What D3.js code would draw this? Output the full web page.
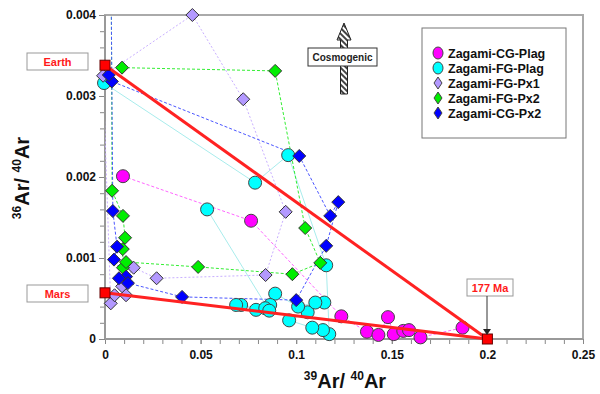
<!DOCTYPE html>
<html>
<head>
<meta charset="utf-8">
<script src="https://cdn.jsdelivr.net/npm/d3@7"></script>
<style>
  body { margin: 0; background: #fff; }
  svg { display: block; font-family: "Liberation Sans", Arial, sans-serif; }
</style>
</head>
<body>
<svg id="chart" width="600" height="394"></svg>
<script>
// values, [39Ar/40Ar, 36Ar/40Ar], in step order
var cgPlag = [[0.0094, 0.00201], [0.0764, 0.00146], [0.1236, 0.00028], [0.137, 0.00009],
              [0.143, 0.00005], [0.148, 0.00027], [0.151, 0.00006], [0.156, 0.0001],
              [0.159, 0.00011], [0.165, 0.00002], [0.187, 0.00014]];
var fgPlag = [[-0.0005, 0.00316], [0.0785, 0.00193], [0.0958, 0.00227], [0.1157, 0.00091],
              [0.1173, 0.00006], [0.114, 0.00011], [0.1084, 0.00014], [0.0963, 0.00023],
              [0.106, 0.00033], [0.1147, 0.00045], [0.11, 0.00045], [0.101, 0.0004],
              [0.089, 0.00056], [0.0864, 0.00042], [0.079, 0.00036], [0.0712, 0.00042],
              [0.0686, 0.00042], [0.0838, 0.00038], [0.0859, 0.00035], [0.0534, 0.0016]];
var fgPx1 = [[0.003, 0.00044], [-0.001, 0.00325], [0.0457, 0.004], [0.0723, 0.00296],
             [0.0945, 0.00157], [0.084, 0.00079], [0.027, 0.00075], [0.015, 0.00088],
             [0.009, 0.00065], [0.011, 0.00054], [0.005, 0.00054]];
var fgPx2 = [[0.003, 0.0062], [0.0037, 0.00183], [0.0094, 0.00152], [0.0105, 0.00125],
             [0.0093, 0.00111], [0.0094, 0.00088], [0.011, 0.00095], [0.0487, 0.00089],
             [0.098, 0.0008], [0.1126, 0.00094], [0.1047, 0.00137], [0.089, 0.00331],
             [0.0089, 0.00335]];
var cgPx2 = [[0.0026, 0.0062], [0.0041, 0.00158], [0.0063, 0.00114], [0.0047, 0.00098],
             [0.011, 0.00077], [0.0073, 0.00075], [0.012, 0.00069], [0.0403, 0.00052],
             [0.1, 0.00048], [0.1157, 0.00115], [0.122, 0.00169], [0.1178, 0.00152],
             [0.1016, 0.00226], [0.0036, 0.00318], [0.002, 0.00326]];

var seriesNames = ["Zagami-CG-Plag", "Zagami-FG-Plag", "Zagami-FG-Px1", "Zagami-FG-Px2", "Zagami-CG-Px2"];
var endMembers = [[0, 0.00338], [0, 0.00057], [0.2, 0]];   // Earth, Mars, 177 Ma
var endLabels = ["Earth", "Mars", "177 Ma"];
var xTickValues = [0, 0.05, 0.1, 0.15, 0.2, 0.25];
var xTickLabels = ["0", "0.05", "0.1", "0.15", "0.2", "0.25"];
var yTickValues = [0, 0.001, 0.002, 0.003, 0.004];
var yTickLabels = ["0", "0.001", "0.002", "0.003", "0.004"];

var series = [
  {name: seriesNames[0], data: cgPlag, shape: "circle", fill: "#ff00ff", line: "#ff66ff", dash: "3,2"},
  {name: seriesNames[1], data: fgPlag, shape: "circle", fill: "#00ffff", line: "#a8ecec", dash: null},
  {name: seriesNames[2], data: fgPx1, shape: "diamond", fill: "#b399ff", line: "#c9b0ff", dash: "2,2"},
  {name: seriesNames[3], data: fgPx2, shape: "diamond", fill: "#00ee00", line: "#33ee33", dash: "3,2"},
  {name: seriesNames[4], data: cgPx2, shape: "diamond", fill: "#0000ff", line: "#4a55ff", dash: "3,2"}
];

var svg = d3.select("#chart");
var x = d3.scaleLinear().domain([0, 0.25]).range([105, 583]);
var y = d3.scaleLinear().domain([0, 0.004]).range([339, 15]);

var defs = svg.append("defs");
defs.append("clipPath").attr("id", "plotclip")
    .append("rect").attr("x", 105).attr("y", 15).attr("width", 478).attr("height", 324);
var hatch = defs.append("pattern").attr("id", "hatch")
    .attr("patternUnits", "userSpaceOnUse").attr("width", 4).attr("height", 4)
    .attr("patternTransform", "rotate(-45)");
hatch.append("rect").attr("width", 4).attr("height", 4).attr("fill", "#fff");
hatch.append("rect").attr("width", 2).attr("height", 4).attr("fill", "#444");

// plot frame
svg.append("rect")
    .attr("x", 105).attr("y", 15).attr("width", 478).attr("height", 324)
    .attr("fill", "none").attr("stroke", "#aaa").attr("stroke-width", 2);

// axes
var yMinor = d3.range(0, 0.00401, 0.0002);
var xMinor = d3.range(0, 0.2501, 0.01);
function styleAxis(g) {
  g.select(".domain").remove();
  g.selectAll(".tick line").attr("stroke", "#888");
  g.selectAll(".tick text").attr("font-size", 12).attr("font-weight", "bold")
      .attr("fill", "#111").attr("font-family", "Liberation Sans, Arial, sans-serif");
}
svg.append("g").attr("transform", "translate(105,0)")
    .call(d3.axisLeft(y).tickValues(yMinor).tickSize(5).tickFormat(""))
    .call(styleAxis);
svg.append("g").attr("transform", "translate(105,0)")
    .call(d3.axisLeft(y).tickValues(yTickValues).tickSize(6).tickPadding(3)
          .tickFormat(function(d, i) { return yTickLabels[i]; }))
    .call(styleAxis);
svg.append("g").attr("transform", "translate(0,339)")
    .call(d3.axisBottom(x).tickValues(xMinor).tickSize(5).tickFormat(""))
    .call(styleAxis);
svg.append("g").attr("transform", "translate(0,339)")
    .call(d3.axisBottom(x).tickValues(xTickValues).tickSize(5).tickPadding(6)
          .tickFormat(function(d, i) { return xTickLabels[i]; }))
    .call(styleAxis);

svg.append("line").attr("x1", 105).attr("x2", 105).attr("y1", 15).attr("y2", 339)
    .attr("stroke", "#999").attr("stroke-width", 2);
svg.append("line").attr("x1", 105).attr("x2", 583).attr("y1", 339).attr("y2", 339)
    .attr("stroke", "#999").attr("stroke-width", 2);

// axis titles
var xt = svg.append("text").attr("x", 345).attr("y", 388).attr("text-anchor", "middle")
    .attr("font-weight", "bold").attr("fill", "#111");
xt.append("tspan").attr("font-size", 12).attr("dy", -8).text("39");
xt.append("tspan").attr("font-size", 20).attr("dy", 8).text("Ar/ ");
xt.append("tspan").attr("font-size", 12).attr("dy", -8).text("40");
xt.append("tspan").attr("font-size", 20).attr("dy", 8).text("Ar");

var yt = svg.append("text").attr("transform", "translate(29,178) rotate(-90)")
    .attr("text-anchor", "middle").attr("font-weight", "bold").attr("fill", "#111");
yt.append("tspan").attr("font-size", 12).attr("dy", -8).text("36");
yt.append("tspan").attr("font-size", 20).attr("dy", 8).text("Ar/ ");
yt.append("tspan").attr("font-size", 12).attr("dy", -8).text("40");
yt.append("tspan").attr("font-size", 20).attr("dy", 8).text("Ar");

// cosmogenic arrow
svg.append("path")
    .attr("d", "M340.5,94 L340.5,40 L337,40 L344,23 L351,40 L347.5,40 L347.5,94 Z")
    .attr("fill", "url(#hatch)").attr("stroke", "#222").attr("stroke-width", 1);
svg.append("rect").attr("x", 308).attr("y", 48).attr("width", 69).attr("height", 18)
    .attr("fill", "#fff").attr("stroke", "#333");
svg.append("text").attr("x", 342.5).attr("y", 61).attr("text-anchor", "middle")
    .attr("font-size", 10).attr("font-weight", "bold").attr("fill", "#222").text("Cosmogenic");

// series lines
var plot = svg.append("g").attr("clip-path", "url(#plotclip)");
var line = d3.line().x(function(d) { return x(d[0]); }).y(function(d) { return y(d[1]); });
[1, 0, 2, 3, 4].forEach(function(i) {
  var s = series[i];
  plot.append("path").datum(s.data).attr("d", line)
      .attr("fill", "none").attr("stroke", s.line).attr("stroke-width", 1)
      .attr("stroke-dasharray", s.dash);
});

function marker(g, s, cx, cy) {
  if (s.shape == "circle") {
    g.append("circle").attr("cx", cx).attr("cy", cy).attr("r", 6.5)
        .attr("fill", s.fill).attr("stroke", "#444").attr("stroke-width", 1);
  } else {
    g.append("path").attr("d", "M" + cx + "," + (cy - 6.5) + " L" + (cx + 6.5) + "," + cy +
                      " L" + cx + "," + (cy + 6.5) + " L" + (cx - 6.5) + "," + cy + " Z")
        .attr("fill", s.fill).attr("stroke", "#333").attr("stroke-width", 1);
  }
}

// markers, cyan first so the rest sit on top
var marks = svg.append("g");
[1, 0, 2, 3, 4].forEach(function(i) {
  var s = series[i];
  s.data.forEach(function(d) {
    if (d[1] > 0.004) return;
    marker(marks, s, x(d[0]), y(d[1]));
  });
});

// mixing lines Earth -> 177 Ma and Mars -> 177 Ma
[0, 1].forEach(function(i) {
  svg.append("line")
      .attr("x1", x(endMembers[i][0])).attr("y1", y(endMembers[i][1]))
      .attr("x2", x(endMembers[2][0])).attr("y2", y(endMembers[2][1]))
      .attr("stroke", "#ff2222").attr("stroke-width", 3);
});
endMembers.forEach(function(d) {
  svg.append("rect").attr("x", x(d[0]) - 5).attr("y", y(d[1]) - 5)
      .attr("width", 10).attr("height", 10)
      .attr("fill", "#ff0000").attr("stroke", "#660000").attr("stroke-width", 1);
});

// end member labels
var labelBoxes = [[27, 53, 61, 17], [27, 285, 61, 17], [467, 279, 46, 17]];
labelBoxes.forEach(function(b, i) {
  svg.append("rect").attr("x", b[0]).attr("y", b[1]).attr("width", b[2]).attr("height", b[3])
      .attr("fill", "#fff").attr("stroke", "#999");
  svg.append("text").attr("x", b[0] + b[2] / 2).attr("y", b[1] + 13)
      .attr("text-anchor", "middle").attr("font-size", 11).attr("font-weight", "bold")
      .attr("fill", "#ff1a1a").text(endLabels[i]);
});
svg.append("line").attr("x1", 487).attr("x2", 487).attr("y1", 296).attr("y2", 330)
    .attr("stroke", "#333").attr("stroke-width", 1);
svg.append("path").attr("d", "M483,329 L491,329 L487,335 Z").attr("fill", "#222");

// legend
var legend = svg.append("g");
legend.append("rect").attr("x", 422).attr("y", 28).attr("width", 144).attr("height", 110)
    .attr("fill", "#fff").attr("stroke", "#777");
series.forEach(function(s, i) {
  var ly = 53 + i * 15;
  if (s.shape == "circle") {
    legend.append("ellipse").attr("cx", 438).attr("cy", ly).attr("rx", 5).attr("ry", 6)
        .attr("fill", s.fill).attr("stroke", "#444");
  } else {
    legend.append("path").attr("d", "M438," + (ly - 6) + " L442," + ly + " L438," + (ly + 6) +
                           " L434," + ly + " Z")
        .attr("fill", s.fill).attr("stroke", "#444");
  }
  legend.append("text").attr("x", 448).attr("y", ly + 4.5)
      .attr("font-size", 12.5).attr("font-weight", "bold").attr("fill", "#111").text(s.name);
});
</script>
</body>
</html>
